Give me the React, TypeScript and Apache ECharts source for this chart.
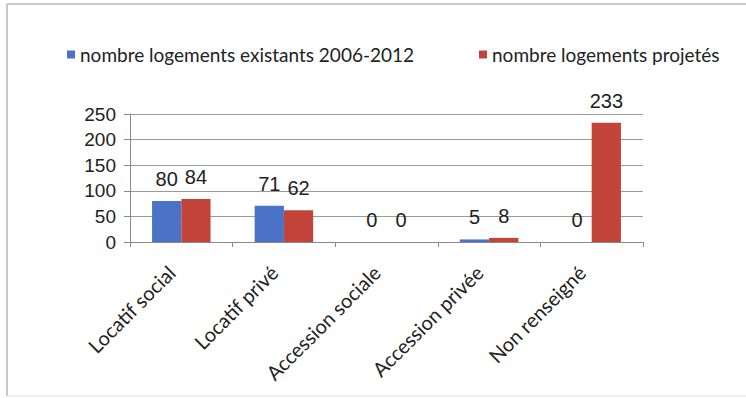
import React, { useEffect, useRef } from "react";
import * as echarts from "echarts";

const categories = ["Locatif social", "Locatif privé", "Accession sociale", "Accession privée", "Non renseigné"];
const existants = [80, 71, 0, 5, 0];
const projetes = [84, 62, 0, 8, 233];
const seriesNames = ["nombre logements existants 2006-2012", "nombre logements projetés"];
const yTicks = { min: 0, max: 250, interval: 50 };

const BLUE = "#4A72C6";
const RED = "#C2433A";
const UI_FONT = "Lato";
const NUM_FONT = "Liberation Sans";

export default function App() {
  const ref = useRef<HTMLDivElement>(null);
  useEffect(() => {
    if (!ref.current) return;
    const chart = echarts.init(ref.current, undefined, { renderer: "svg" });
    const valueLabel = {
      show: true,
      position: "top" as const,
      distance: 12,
      fontFamily: NUM_FONT,
      fontSize: 20,
      color: "#222",
    };
    const legendText = { fontFamily: UI_FONT, fontSize: 19, color: "#222" };
    const frame = { stroke: "#b5b5b5", lineWidth: 1.5 };
    chart.setOption({
      animation: false,
      backgroundColor: "#fff",
      graphic: [
        { type: "line", shape: { x1: 7, y1: 4, x2: 746, y2: 4 }, style: frame, silent: true },
        { type: "line", shape: { x1: 7, y1: 4, x2: 7, y2: 396 }, style: frame, silent: true },
        { type: "line", shape: { x1: 7, y1: 396, x2: 746, y2: 396 }, style: { stroke: "#dddddd", lineWidth: 1 }, silent: true },
      ],
      legend: [
        {
          data: [seriesNames[0]],
          left: 62,
          top: 40,
          icon: "rect",
          itemWidth: 8,
          itemHeight: 8,
          itemGap: 4,
          textStyle: legendText,
        },
        {
          data: [seriesNames[1]],
          left: 474,
          top: 40,
          icon: "rect",
          itemWidth: 8,
          itemHeight: 8,
          itemGap: 4,
          textStyle: legendText,
        },
      ],
      grid: { left: 130, right: 103, top: 114, bottom: 156, containLabel: false },
      xAxis: {
        type: "category",
        data: categories,
        axisLine: { show: true, lineStyle: { color: "#8a8a8a", width: 1 } },
        axisTick: { show: true, length: 5, lineStyle: { color: "#8a8a8a" } },
        axisLabel: {
          rotate: 45,
          margin: 17,
          interval: 0,
          padding: [0, 14, 0, 0],
          fontFamily: UI_FONT,
          fontSize: 20,
          color: "#222",
        },
      },
      yAxis: {
        type: "value",
        min: yTicks.min,
        max: yTicks.max,
        interval: yTicks.interval,
        axisLine: { show: true, lineStyle: { color: "#8a8a8a", width: 1 } },
        axisTick: { show: true, length: 6, lineStyle: { color: "#8a8a8a" } },
        axisLabel: { margin: 14, fontFamily: NUM_FONT, fontSize: 19, color: "#222" },
        splitLine: { show: true, lineStyle: { color: "#9a9a9a", width: 1 } },
      },
      series: [
        {
          name: seriesNames[0],
          type: "bar",
          data: existants,
          itemStyle: { color: BLUE },
          barGap: "0%",
          barCategoryGap: "43%",
          label: valueLabel,
        },
        {
          name: seriesNames[1],
          type: "bar",
          data: projetes,
          itemStyle: { color: RED },
          barGap: "0%",
          barCategoryGap: "43%",
          label: valueLabel,
        },
      ],
    });
    return () => chart.dispose();
  }, []);
  return <div ref={ref} style={{ width: 746, height: 398, position: "absolute", left: 0, top: 0 }} />;
}
